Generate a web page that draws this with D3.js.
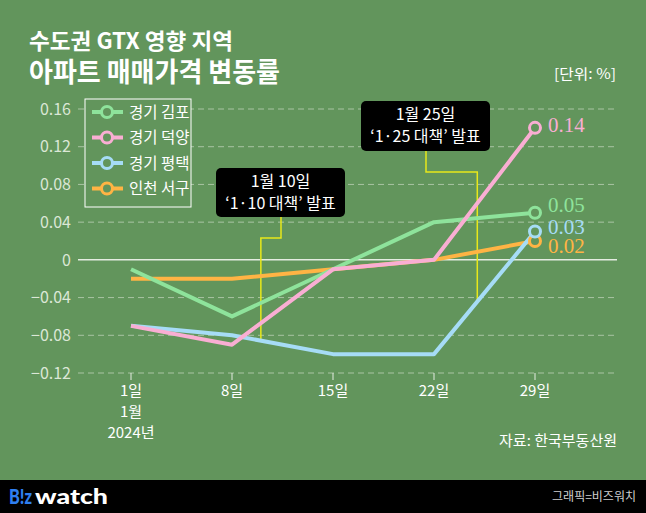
<!DOCTYPE html>
<html><head><meta charset="utf-8">
<script src="https://cdn.jsdelivr.net/npm/d3@7"></script>
<style>
html,body{margin:0;padding:0;background:#62955c;}
svg{display:block;}
</style></head>
<body>
<script>
// ---- data ----
const dayNums = [1, 8, 15, 22, 29];
const dayLabels = ["1일", "8일", "15일", "22일", "29일"];
const firstTickExtra = ["1월", "2024년"];
const seriesNames = ["경기 김포", "경기 덕양", "경기 평택", "인천 서구"];
const gimpo = [-0.01, -0.06, -0.01, 0.04, 0.05];
const deokyang = [-0.07, -0.09, -0.01, 0.00, 0.14];
const pyeongtaek = [-0.07, -0.08, -0.10, -0.10, 0.03];
const seogu = [-0.02, -0.02, -0.01, 0.00, 0.02];
const endLabels = ["0.05", "0.14", "0.03", "0.02"];
const yTicks = [-0.12, -0.08, -0.04, 0, 0.04, 0.08, 0.12, 0.16];
const yTickLabels = ["−0.12", "−0.08", "−0.04", "0", "0.04", "0.08", "0.12", "0.16"];
const annDays = [10, 25];
const annEndValues = [-0.087, -0.044];
const annLine1 = ["1월 10일", "1월 25일"];
const annLine2 = ["‘1·10 대책’ 발표", "‘1·25 대책’ 발표"];
const title1 = "수도권 GTX 영향 지역";
const title2 = "아파트 매매가격 변동률";
const unitText = "[단위: %]";
const sourceText = "자료: 한국부동산원";
const creditText = "그래픽=비즈워치";

const colors = ["#8ee39b", "#f9aed3", "#a6dcf6", "#ffb444"];
const series = [gimpo, deokyang, pyeongtaek, seogu];

const W = 646, H = 513;
const KR = "'Noto Sans CJK KR','Noto Sans',sans-serif";
const svg = d3.select("body").append("svg").attr("width", W).attr("height", H);
svg.append("rect").attr("width", W).attr("height", H).attr("fill", "#62955c");

const x = d3.scaleLinear().domain([1, 29]).range([131, 535]);
const y = d3.scaleLinear().domain([-0.12, 0.16]).range([373, 109]);

// titles
svg.append("text").attr("x", 29).attr("y", 49).text(title1)
  .attr("font-family", KR).attr("font-weight", 700).attr("font-size", 22)
  .attr("fill", "#fff").attr("textLength", 204).attr("lengthAdjust", "spacingAndGlyphs");
svg.append("text").attr("x", 29).attr("y", 82).text(title2)
  .attr("font-family", KR).attr("font-weight", 700).attr("font-size", 27)
  .attr("fill", "#fff").attr("textLength", 251).attr("lengthAdjust", "spacingAndGlyphs");
svg.append("text").attr("x", 616).attr("y", 79).attr("text-anchor", "end").text(unitText)
  .attr("font-family", KR).attr("font-size", 14).attr("fill", "#fff")
  .attr("textLength", 62).attr("lengthAdjust", "spacingAndGlyphs");

// gridlines
const grid = svg.append("g");
grid.selectAll("line").data(yTicks).join("line")
  .attr("x1", 78).attr("x2", 617)
  .attr("y1", d => y(d)).attr("y2", d => y(d))
  .attr("stroke", d => d === 0 ? "#e4ece1" : "#a9c4a3")
  .attr("stroke-width", d => d === 0 ? 1.5 : 1)
  .attr("stroke-dasharray", d => d === 0 ? null : "6,4");
grid.selectAll("text").data(yTicks).join("text")
  .attr("x", 71).attr("y", d => y(d)).attr("dy", "0.36em")
  .attr("text-anchor", "end").text((d, i) => yTickLabels[i])
  .attr("font-family", KR).attr("font-size", 16).attr("fill", "#dbe7d6");

// x axis ticks
const xa = svg.append("g");
xa.selectAll("line").data(dayNums).join("line")
  .attr("x1", d => x(d)).attr("x2", d => x(d)).attr("y1", 373).attr("y2", 380)
  .attr("stroke", "#e4ece1").attr("stroke-width", 1);
xa.selectAll("text.day").data(dayNums).join("text").attr("class", "day")
  .attr("x", d => x(d)).attr("y", 396).attr("text-anchor", "middle")
  .text((d, i) => dayLabels[i])
  .attr("font-family", KR).attr("font-size", 15).attr("fill", "#fff");
firstTickExtra.forEach((t, i) => {
  xa.append("text").attr("x", x(dayNums[0])).attr("y", 417 + i * 21)
    .attr("text-anchor", "middle").text(t)
    .attr("font-family", KR).attr("font-size", 15).attr("fill", "#fff");
});

// annotation connectors
const annBoxes = [
  {l: 216, t: 168, r: 345, b: 217, ax: 281, elbow: 238},
  {l: 361, t: 101, r: 490, b: 151, ax: 426, elbow: 172}
];
annDays.forEach((d, i) => {
  const bx = annBoxes[i];
  svg.append("path")
    .attr("d", `M${bx.ax},${bx.b} V${bx.elbow} H${x(d)} V${y(annEndValues[i])}`)
    .attr("fill", "none").attr("stroke", "#e8e81a").attr("stroke-width", 1.5);
});

// lines
const line = d3.line().x((d, i) => x(dayNums[i])).y(d => y(d));
const order = [3, 0, 2, 1];
order.forEach(k => {
  svg.append("path").datum(series[k]).attr("d", line)
    .attr("fill", "none").attr("stroke", colors[k]).attr("stroke-width", 4)
    .attr("stroke-linejoin", "round");
});
order.forEach(k => {
  const v = series[k][series[k].length - 1];
  svg.append("circle").attr("cx", x(29)).attr("cy", y(v)).attr("r", 5.5)
    .attr("fill", "#62955c").attr("stroke", colors[k]).attr("stroke-width", 3);
});
// end labels
const labelOffsets = [-8, -3, -5, 5];
order.forEach(k => {
  const v = series[k][series[k].length - 1];
  svg.append("text").attr("x", 548).attr("y", y(v) + labelOffsets[k]).attr("dy", "0.33em")
    .text(endLabels[k])
    .attr("font-family", "'Liberation Serif','Times New Roman',serif")
    .attr("font-size", 21).attr("fill", colors[k]);
});

// annotation boxes
annDays.forEach((d, i) => {
  const bx = annBoxes[i];
  svg.append("rect").attr("x", bx.l).attr("y", bx.t).attr("width", bx.r - bx.l)
    .attr("height", bx.b - bx.t).attr("rx", 5).attr("fill", "#000");
  const cx = (bx.l + bx.r) / 2;
  svg.append("text").attr("x", cx).attr("y", bx.t + 19).attr("text-anchor", "middle")
    .text(annLine1[i]).attr("font-family", KR).attr("font-size", 16).attr("fill", "#fff");
  svg.append("text").attr("x", cx).attr("y", bx.t + 41).attr("text-anchor", "middle")
    .text(annLine2[i]).attr("font-family", KR).attr("font-size", 16).attr("fill", "#fff");
});

// legend
const lg = svg.append("g");
lg.append("rect").attr("x", 85).attr("y", 99).attr("width", 106).attr("height", 108)
  .attr("fill", "#62955c").attr("stroke", "#fff").attr("stroke-width", 1);
seriesNames.forEach((n, i) => {
  const yy = 112 + i * 25.5;
  lg.append("line").attr("x1", 92).attr("x2", 123).attr("y1", yy).attr("y2", yy)
    .attr("stroke", colors[i]).attr("stroke-width", 4);
  lg.append("circle").attr("cx", 107).attr("cy", yy).attr("r", 5.5)
    .attr("fill", "#62955c").attr("stroke", colors[i]).attr("stroke-width", 3);
  lg.append("text").attr("x", 129).attr("y", yy).attr("dy", "0.36em").text(n)
    .attr("font-family", KR).attr("font-size", 15.5).attr("fill", "#fff");
});

// source
svg.append("text").attr("x", 617).attr("y", 446).attr("text-anchor", "end").text(sourceText)
  .attr("font-family", KR).attr("font-size", 15).attr("fill", "#fff");

// footer
svg.append("rect").attr("x", 0).attr("y", 480).attr("width", W).attr("height", 33).attr("fill", "#000");
svg.append("text").attr("x", 9).attr("y", 504).text("B!z")
  .attr("font-family", "Lato,'DejaVu Sans',sans-serif").attr("font-weight", 900).attr("font-size", 20)
  .attr("fill", "#2f7ff0").attr("textLength", 23).attr("lengthAdjust", "spacingAndGlyphs");
svg.append("text").attr("x", 35).attr("y", 504).text("watch")
  .attr("font-family", "Lato,'DejaVu Sans',sans-serif").attr("font-weight", 900).attr("font-size", 20)
  .attr("fill", "#fff").attr("textLength", 73).attr("lengthAdjust", "spacingAndGlyphs");
svg.append("text").attr("x", 636).attr("y", 501).attr("text-anchor", "end").text(creditText)
  .attr("font-family", KR).attr("font-size", 12).attr("fill", "#cfcfcf");
</script>
</body></html>
